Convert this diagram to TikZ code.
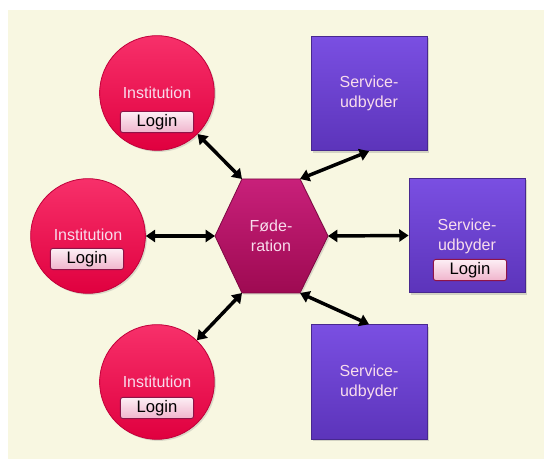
\documentclass[tikz,border=0pt]{standalone}
\usepackage{fontspec}
\setmainfont{Liberation Sans}
\usepackage{tikz}
\usetikzlibrary{arrows.meta,positioning,shapes.geometric,shadows}

\definecolor{bgcream}{HTML}{F8F7E1}
\definecolor{insttop}{HTML}{F7306A}
\definecolor{instbot}{HTML}{E0003F}
\definecolor{instrim}{HTML}{C0003A}
\definecolor{sptop}{HTML}{7A4FE2}
\definecolor{spbot}{HTML}{5C34BA}
\definecolor{sprim}{HTML}{48288F}
\definecolor{fedtop}{HTML}{C8207A}
\definecolor{fedbot}{HTML}{9E0A52}
\definecolor{lbltext}{HTML}{F8DCEC}
\definecolor{logintop}{HTML}{FDEFF5}
\definecolor{loginbot}{HTML}{F0B4CC}
\definecolor{loginrim}{HTML}{8E1448}

\begin{document}
\begin{tikzpicture}[x=0.75pt, y=-0.75pt,
  inst/.style={circle, minimum size=86pt, inner sep=0pt,
    top color=insttop, bottom color=instbot, draw=instrim, line width=0.6pt,
    drop shadow={opacity=0.25, shadow xshift=1.2pt, shadow yshift=-1.2pt}},
  provider/.style={rectangle, minimum width=87pt, minimum height=86pt,
    inner sep=0pt, top color=sptop, bottom color=spbot, draw=sprim,
    line width=0.6pt,
    drop shadow={opacity=0.3, shadow xshift=1.5pt, shadow yshift=-1.5pt}},
  lbl/.style={font=\fontsize{12}{15}\selectfont, text=lbltext,
    align=center, inner sep=0pt},
  login/.style={rectangle, rounded corners=2pt, minimum width=55pt,
    minimum height=16pt, inner sep=0pt, top color=logintop,
    bottom color=loginbot, draw=loginrim, line width=0.7pt,
    font=\fontsize{12.5}{14}\selectfont},
  arr/.style={{Triangle[length=7pt,width=9pt]}-{Triangle[length=7pt,width=9pt]},
    line width=2.6pt, black}
]
  \useasboundingbox (0,0) rectangle (544,459);
  \fill[bgcream] (8,10) rectangle (544,459);

  % institutions
  \node[inst] (inst1) at (157,93) {};
  \node[inst] (inst2) at (88,236) {};
  \node[inst] (inst3) at (157,382) {};

  \node[lbl] (instlbl1) at (157,93) {Institution};
  \node[login] (login1) at (157,122) {Login};
  \node[lbl] (instlbl2) at (88,235) {Institution};
  \node[login] (login2) at (87,259) {Login};
  \node[lbl] (instlbl3) at (157,382) {Institution};
  \node[login] (login3) at (157,408) {Login};

  % service providers
  \node[provider] (sp1) at (369,93.5) {};
  \node[provider] (sp2) at (467,235.5) {};
  \node[provider] (sp3) at (369,382) {};

  \node[lbl] (splbl1) at (369,93) {Service-\\udbyder};
  \node[lbl] (splbl2) at (467,236) {Service-\\udbyder};
  \node[login] (login4) at (470,270) {Login};
  \node[lbl] (splbl3) at (369,382) {Service-\\udbyder};

  % federation hexagon
  \coordinate (fedW)  at (215,236);
  \coordinate (fedNW) at (242,179);
  \coordinate (fedNE) at (300,179);
  \coordinate (fedE)  at (328,236);
  \coordinate (fedSE) at (300,293);
  \coordinate (fedSW) at (242,293);
  \path[top color=fedtop, bottom color=fedbot, draw=fedbot!80!black,
    line width=0.6pt,
    drop shadow={opacity=0.25, shadow xshift=1.2pt, shadow yshift=-1.2pt}]
    (fedW) -- (fedNW) -- (fedNE) -- (fedE) -- (fedSE) -- (fedSW) -- cycle;
  \node[lbl] (fed) at (271,236) {Føde-\\ration};

  % connections
  \draw[arr] (inst1) -- (fedNW);
  \draw[arr] (inst2) -- (fedW);
  \draw[arr] (inst3) -- (fedSW);
  \draw[arr] (sp1.south) -- (fedNE);
  \draw[arr] (fedE) -- (sp2.west);
  \draw[arr] (sp3.north) -- (fedSE);
\end{tikzpicture}
\end{document}
